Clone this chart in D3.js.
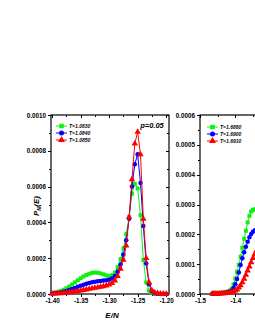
<!DOCTYPE html>
<html>
<head>
<meta charset="utf-8">
<script src="https://cdn.jsdelivr.net/npm/d3@7"></script>
<style>
  body { margin: 0; background: #fff; }
  text { font-family: "Liberation Sans", Arial, sans-serif; font-weight: bold; }
</style>
</head>
<body>
<svg width="255" height="330"></svg>
<script>
// left panel: T ~ 1.08
var energyL = [-1.400,-1.395,-1.390,-1.385,-1.380,-1.375,-1.370,-1.365,-1.360,-1.355,
  -1.350,-1.345,-1.340,-1.335,-1.330,-1.325,-1.320,-1.315,-1.310,-1.305,
  -1.300,-1.295,-1.290,-1.285,-1.280,-1.275,-1.270,-1.265,-1.260,-1.255,
  -1.250,-1.245,-1.240,-1.235,-1.230,-1.225,-1.220,-1.215,-1.210,-1.205,-1.200];
var greenL = [0.000005,0.000008,0.000012,0.000017,0.000024,0.000032,0.000042,0.000053,0.000065,0.000077,
  0.000088,0.000098,0.000106,0.000113,0.000118,0.000120,0.000119,0.000115,0.000110,0.000104,
  0.000100,0.000105,0.000120,0.000150,0.000195,0.000255,0.000335,0.000430,0.000560,0.000615,
  0.000590,0.000440,0.000190,0.000065,0.000020,0.000006,0.000002,0.000001,0,0,0];
var blueL = [0.000003,0.000004,0.000006,0.000009,0.000013,0.000017,0.000022,0.000028,0.000034,0.000040,
  0.000046,0.000052,0.000057,0.000062,0.000066,0.000069,0.000071,0.000073,0.000075,0.000077,
  0.000080,0.000087,0.000100,0.000125,0.000165,0.000220,0.000300,0.000420,0.000600,0.000725,
  0.000780,0.000620,0.000380,0.000170,0.000055,0.000015,0.000004,0.000001,0,0,0];
var redL = [0.000002,0.000002,0.000003,0.000004,0.000005,0.000007,0.000009,0.000011,0.000013,0.000016,
  0.000019,0.000022,0.000025,0.000028,0.000031,0.000034,0.000037,0.000040,0.000043,0.000047,
  0.000052,0.000060,0.000075,0.000100,0.000140,0.000190,0.000270,0.000430,0.000640,0.000840,
  0.000905,0.000780,0.000420,0.000200,0.000065,0.000020,0.000008,0.000004,0.000002,0.000001,0];
var labelsL = ["T=1.0830", "T=1.0840", "T=1.0850"];

// right panel: T ~ 1.69
var energyR = [-1.465,-1.460,-1.455,-1.450,-1.445,-1.440,-1.435,-1.430,-1.425,-1.420,
  -1.415,-1.410,-1.405,-1.400,-1.395,-1.390,-1.385,-1.380,-1.375,-1.370,
  -1.365,-1.360,-1.355,-1.350,-1.345,-1.340];
var greenR = [0.000001,0.000001,0.000002,0.000002,0.000003,0.000003,0.000004,0.000005,0.000007,0.000009,
  0.000012,0.000018,0.000032,0.000052,0.000075,0.000098,0.000125,0.000155,0.000185,0.000212,
  0.000240,0.000262,0.000277,0.000282,0.000284,0.000285];
var blueR = [0.000001,0.000001,0.000001,0.000002,0.000002,0.000003,0.000003,0.000004,0.000005,0.000006,
  0.000008,0.000012,0.000020,0.000033,0.000050,0.000072,0.000097,0.000120,0.000140,0.000158,
  0.000175,0.000190,0.000201,0.000209,0.000213,0.000216];
var redR = [0.000001,0.000001,0.000001,0.000001,0.000001,0.000002,0.000002,0.000002,0.000003,0.000003,
  0.000004,0.000006,0.000008,0.000011,0.000015,0.000021,0.000029,0.000039,0.000051,0.000064,
  0.000078,0.000092,0.000106,0.000120,0.000133,0.000145];
var labelsR = ["T=1.6880", "T=1.6900", "T=1.6910"];

var ticksXL = [-1.40, -1.35, -1.30, -1.25, -1.20];
var minorXL = [-1.375, -1.325, -1.275, -1.225];
var ticksYL = [0, 0.0002, 0.0004, 0.0006, 0.0008, 0.0010];
var minorYL = [0.0001, 0.0003, 0.0005, 0.0007, 0.0009];
var ticksXR = [-1.5, -1.4];
var minorXR = [-1.45, -1.35];
var ticksYR = [0, 0.0001, 0.0002, 0.0003, 0.0004, 0.0005, 0.0006];
var minorYR = [0.00005, 0.00015, 0.00025, 0.00035, 0.00045, 0.00055];

var colors = ["#11ee11", "#0000ff", "#ff0000"];
var symbols = [d3.symbolSquare, d3.symbolCircle, d3.symbolTriangle];
var symSizes = [16, 16, 18];

var svg = d3.select("svg");
var hy = function (f) { return function (v) { return f(v).replace("\u2212", "-"); }; };

function panel(opt) {
  var x = d3.scaleLinear().domain(opt.xdom).range([opt.left, opt.right]);
  var y = d3.scaleLinear().domain(opt.ydom).range([opt.bottom, opt.top]);
  var g = svg.append("g");

  function ax(axis, tx, ty, labels) {
    var a = g.append("g").attr("transform", "translate(" + tx + "," + ty + ")").call(axis);
    a.select(".domain").remove();
    a.selectAll("line").attr("stroke", "#000").attr("stroke-width", 1).attr("shape-rendering", "crispEdges");
    a.selectAll("text").attr("font-size", 6.3).attr("fill", "#000").style("font-family", "Liberation Sans, Arial, sans-serif");
    if (!labels) a.selectAll("text").remove();
    return a;
  }
  // bottom
  ax(d3.axisBottom(x).tickValues(opt.tx).tickSize(3).tickPadding(2).tickFormat(hy(d3.format(opt.xfmt))), 0, opt.bottom, true);
  ax(d3.axisBottom(x).tickValues(opt.mx).tickSize(2), 0, opt.bottom, false);
  // top, ticks inside
  ax(d3.axisBottom(x).tickValues(opt.tx).tickSize(3), 0, opt.top, false);
  ax(d3.axisBottom(x).tickValues(opt.mx).tickSize(2), 0, opt.top, false);
  // left
  ax(d3.axisLeft(y).tickValues(opt.ty).tickSize(3).tickPadding(2).tickFormat(d3.format(".4f")), opt.left, 0, true);
  ax(d3.axisLeft(y).tickValues(opt.my).tickSize(2), opt.left, 0, false);
  // right, ticks inside
  ax(d3.axisLeft(y).tickValues(opt.ty).tickSize(3), opt.right, 0, false);
  ax(d3.axisLeft(y).tickValues(opt.my).tickSize(2), opt.right, 0, false);

  g.append("rect")
    .attr("x", opt.left).attr("y", opt.top)
    .attr("width", opt.right - opt.left).attr("height", opt.bottom - opt.top)
    .attr("fill", "none").attr("stroke", "#000").attr("stroke-width", 1.2);

  var line = d3.line().x(function (d) { return x(d[0]); }).y(function (d) { return y(d[1]); });
  opt.series.forEach(function (vals, i) {
    var pts = opt.energy.map(function (e, j) { return [e, vals[j]]; });
    g.append("path").datum(pts)
      .attr("d", line).attr("fill", "none")
      .attr("stroke", colors[i]).attr("stroke-width", 1);
    g.selectAll(".m" + i).data(pts).enter().append("path")
      .attr("transform", function (d) { return "translate(" + x(d[0]) + "," + y(d[1]) + ")"; })
      .attr("d", d3.symbol().type(symbols[i]).size(symSizes[i]))
      .attr("fill", colors[i]);
  });

  // legend
  opt.labels.forEach(function (t, i) {
    var ly = opt.legY + i * 7;
    var lg = g.append("g");
    lg.append("line").attr("x1", opt.legX).attr("x2", opt.legX + 11)
      .attr("y1", ly).attr("y2", ly).attr("stroke", colors[i]).attr("stroke-width", 1);
    lg.append("path").attr("transform", "translate(" + (opt.legX + 5.5) + "," + ly + ")")
      .attr("d", d3.symbol().type(symbols[i]).size(symSizes[i] + 4)).attr("fill", colors[i]);
    lg.append("text").attr("x", opt.legX + 13).attr("y", ly + 1.8)
      .attr("font-size", 5).attr("font-style", "italic").text(t);
  });
  return { x: x, y: y };
}

panel({
  left: 51, right: 169, top: 115, bottom: 294,
  xdom: [-1.402, -1.195], ydom: [0, 0.001],
  tx: ticksXL, mx: minorXL, ty: ticksYL, my: minorYL, xfmt: ".2f",
  energy: energyL, series: [greenL, blueL, redL], labels: labelsL,
  legX: 56, legY: 126
});

panel({
  left: 200, right: 262, top: 115, bottom: 294,
  xdom: [-1.5, -1.5 + 62 / 353], ydom: [0, 0.0006],
  tx: ticksXR, mx: minorXR, ty: ticksYR, my: minorYR, xfmt: ".1f",
  energy: energyR, series: [greenR, blueR, redR], labels: labelsR,
  legX: 207, legY: 127
});

svg.append("text").attr("x", 152).attr("y", 128)
  .attr("text-anchor", "middle").attr("font-size", 7.5).attr("font-style", "italic")
  .text("p=0.05");

svg.append("text").attr("x", 112).attr("y", 318)
  .attr("text-anchor", "middle").attr("font-size", 8).attr("font-style", "italic")
  .text("E/N");

var yl = svg.append("text")
  .attr("transform", "translate(39,206) rotate(-90)")
  .attr("text-anchor", "middle").attr("font-size", 8).attr("font-style", "italic");
yl.append("tspan").text("P");
yl.append("tspan").attr("font-size", 5.5).attr("dy", 2).text("N");
yl.append("tspan").attr("dy", -2).text("(E)");
</script>
</body>
</html>
